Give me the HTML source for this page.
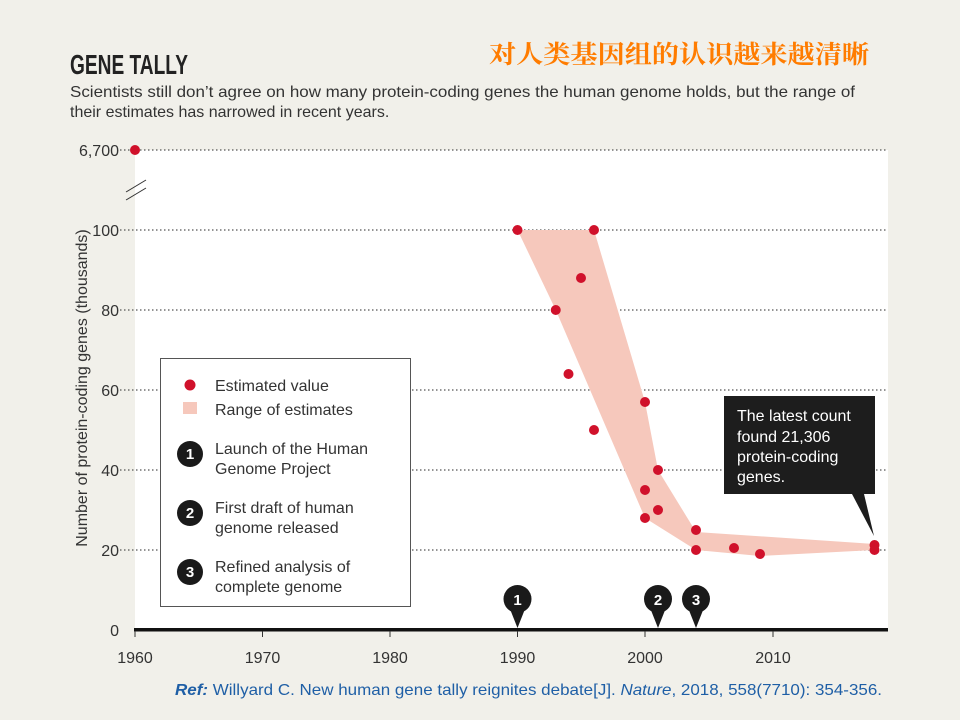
<!DOCTYPE html>
<html><head><meta charset="utf-8"><style>
body{margin:0;width:960px;height:720px;background:#f1f0ea;overflow:hidden;font-family:"Liberation Sans",sans-serif;}
</style></head><body>
<svg width="960" height="720" xmlns="http://www.w3.org/2000/svg" style="position:absolute;left:0;top:0">
<rect width="960" height="720" fill="#f1f0ea"/>
<text x="70" y="74" font-family="Liberation Sans Narrow,Liberation Sans,sans-serif" font-weight="bold" font-size="28" fill="#222" textLength="118" lengthAdjust="spacingAndGlyphs">GENE TALLY</text>
<text x="489" y="63" font-family="Liberation Sans,Noto Serif CJK SC,serif" font-weight="bold" font-size="25" fill="#ff7c00" textLength="380" lengthAdjust="spacingAndGlyphs">对人类基因组的认识越来越清晰</text>
<text x="70" y="97" font-size="16" fill="#333" textLength="785" lengthAdjust="spacingAndGlyphs">Scientists still don’t agree on how many protein-coding genes the human genome holds, but the range of</text>
<text x="70" y="117" font-size="16" fill="#333">their estimates has narrowed in recent years.</text>
<rect x="135" y="150" width="753" height="480" fill="#fff"/>
<g stroke="#555" stroke-width="1.3" stroke-dasharray="1.5,2.5">
<line x1="120" y1="150" x2="888" y2="150"/>
<line x1="120" y1="230" x2="888" y2="230"/>
<line x1="120" y1="310" x2="888" y2="310"/>
<line x1="120" y1="390" x2="888" y2="390"/>
<line x1="120" y1="470" x2="888" y2="470"/>
<line x1="120" y1="550" x2="888" y2="550"/>
</g>
<g stroke="#333" stroke-width="1"><line x1="126" y1="192" x2="146" y2="180"/><line x1="126" y1="200" x2="146" y2="188"/></g>
<g font-size="16" fill="#333" text-anchor="end">
<text x="119" y="156">6,700</text><text x="119" y="236">100</text><text x="119" y="316">80</text><text x="119" y="396">60</text><text x="119" y="476">40</text><text x="119" y="556">20</text><text x="119" y="636">0</text>
</g>
<text transform="translate(87,388) rotate(-90)" font-size="16" fill="#333" text-anchor="middle">Number of protein-coding genes (thousands)</text>
<polygon fill="#f6c8bc" points="517.5,230 594,230 645,402 658,470 696,532 874.5,544 874.5,550 760,556 696,550 645,518 555.75,310"/>
<g fill="#d0112b">
<circle cx="135" cy="150" r="5"/>
<circle cx="517.5" cy="230" r="5"/><circle cx="594" cy="230" r="5"/><circle cx="581" cy="278" r="5"/><circle cx="555.75" cy="310" r="5"/><circle cx="568.5" cy="374" r="5"/><circle cx="645" cy="402" r="5"/><circle cx="594" cy="430" r="5"/><circle cx="658" cy="470" r="5"/><circle cx="645" cy="490" r="5"/><circle cx="658" cy="510" r="5"/><circle cx="645" cy="518" r="5"/><circle cx="696" cy="530" r="5"/><circle cx="696" cy="550" r="5"/><circle cx="734" cy="548" r="5"/><circle cx="760" cy="554" r="5"/><circle cx="874.5" cy="545" r="5"/><circle cx="874.5" cy="550" r="5"/>
</g>
<rect x="134" y="628" width="754" height="3.5" fill="#111"/>
<g stroke="#333" stroke-width="1"><line x1="135" y1="631" x2="135" y2="637"/><line x1="262.5" y1="631" x2="262.5" y2="637"/><line x1="390" y1="631" x2="390" y2="637"/><line x1="517.5" y1="631" x2="517.5" y2="637"/><line x1="645" y1="631" x2="645" y2="637"/><line x1="773" y1="631" x2="773" y2="637"/></g>
<g font-size="16" fill="#333" text-anchor="middle">
<text x="135" y="663">1960</text><text x="262.5" y="663">1970</text><text x="390" y="663">1980</text><text x="517.5" y="663">1990</text><text x="645" y="663">2000</text><text x="773" y="663">2010</text>
</g>
<g fill="#1a1a1a">
<circle cx="517.5" cy="599" r="14"/><polygon points="510,609 525,609 517.5,628"/>
<circle cx="658" cy="599" r="14"/><polygon points="650.5,609 665.5,609 658,628"/>
<circle cx="696" cy="599" r="14"/><polygon points="688.5,609 703.5,609 696,628"/>
</g>
<g fill="#fff" font-weight="bold" font-size="15" text-anchor="middle">
<text x="517.5" y="605">1</text><text x="658" y="605">2</text><text x="696" y="605">3</text>
</g>
<rect x="724" y="396" width="151" height="98" fill="#1d1d1d"/>
<polygon points="852,494 864,494 874,536" fill="#1d1d1d"/>
<g fill="#fff" font-size="16"><text x="737" y="421">The latest count</text><text x="737" y="442">found 21,306</text><text x="737" y="462">protein-coding</text><text x="737" y="482">genes.</text></g>
<rect x="160.5" y="358.5" width="250" height="248" fill="#fff" stroke="#555" stroke-width="1"/>
<circle cx="190" cy="385" r="5.5" fill="#d0112b"/>
<rect x="183" y="402" width="14" height="12" fill="#f6c8bc"/>
<g fill="#1a1a1a"><circle cx="190" cy="454" r="13"/><circle cx="190" cy="513" r="13"/><circle cx="190" cy="572" r="13"/></g>
<g fill="#fff" font-weight="bold" font-size="15" text-anchor="middle"><text x="190" y="459">1</text><text x="190" y="518">2</text><text x="190" y="577">3</text></g>
<g fill="#333" font-size="16">
<text x="215" y="391">Estimated value</text><text x="215" y="415">Range of estimates</text>
<text x="215" y="454">Launch of the Human</text><text x="215" y="474">Genome Project</text>
<text x="215" y="513">First draft of human</text><text x="215" y="533">genome released</text>
<text x="215" y="572">Refined analysis of</text><text x="215" y="592">complete genome</text>
</g>
<text x="175" y="695" font-size="16" fill="#1f5fa6" textLength="707" lengthAdjust="spacingAndGlyphs"><tspan font-weight="bold" font-style="italic">Ref:</tspan> Willyard C. New human gene tally reignites debate[J]. <tspan font-style="italic">Nature</tspan>, 2018, 558(7710): 354-356.</text>
</svg>
</body></html>
